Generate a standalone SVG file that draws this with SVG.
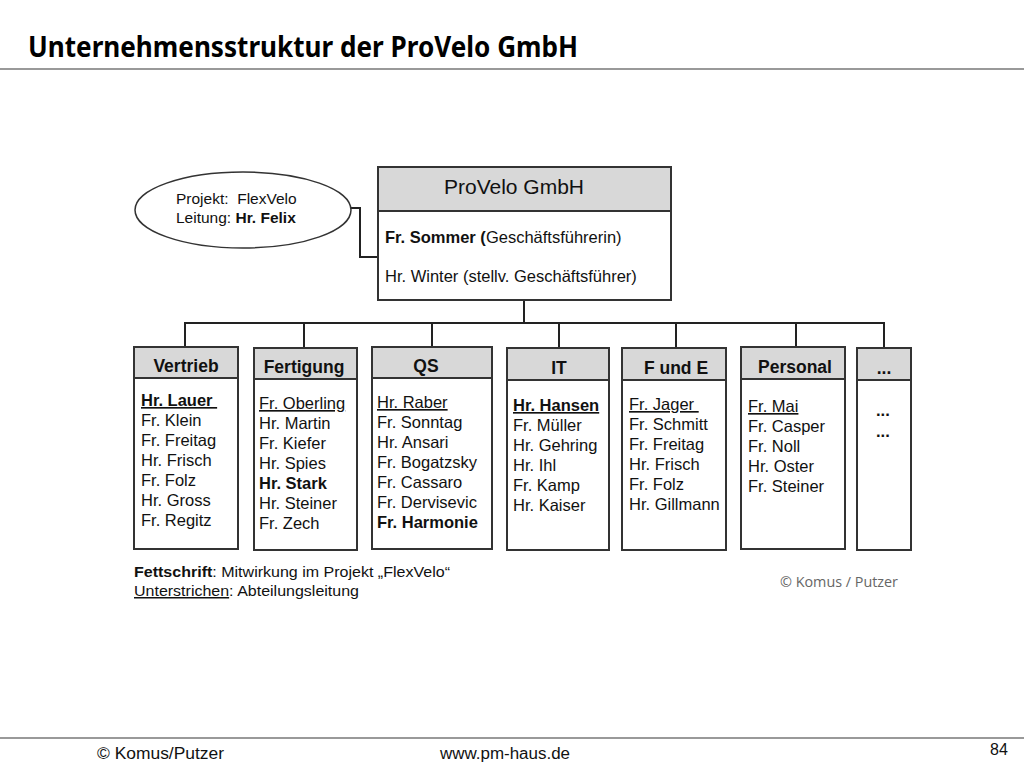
<svg xmlns="http://www.w3.org/2000/svg" width="1024" height="768" viewBox="0 0 1024 768">
<style>
.box{fill:#fff;stroke:#333;stroke-width:2}
.hdr{fill:#d8d8d8;stroke:#333;stroke-width:2}
.ln{fill:none;stroke:#222;stroke-width:2}
.t{font-family:"Liberation Sans",Arial,sans-serif;fill:#111}
.h{font-family:"Liberation Sans",Arial,sans-serif;font-weight:bold;font-size:17.5px;fill:#111;text-anchor:middle}
.m{font-family:"Liberation Sans",Arial,sans-serif;font-size:16.5px;fill:#111}
.b{font-weight:bold}
.u{text-decoration:underline}
</style>
<rect width="1024" height="768" fill="#fff"/>
<text x="28" y="57" font-family="'Noto Sans','Open Sans',sans-serif" font-weight="bold" font-size="29" fill="#000" textLength="550" lengthAdjust="spacingAndGlyphs">Unternehmensstruktur der ProVelo GmbH</text>
<line x1="0" y1="69" x2="1024" y2="69" stroke="#999" stroke-width="2"/>

<g id="connectors">
<polyline class="ln" points="350,208 360,208 360,257 378,257"/>
<line class="ln" x1="524" y1="300" x2="524" y2="323"/>
<line class="ln" x1="185" y1="323" x2="885" y2="323"/>
<line class="ln" x1="185" y1="322" x2="185" y2="347"/>
<line class="ln" x1="304" y1="322" x2="304" y2="348"/>
<line class="ln" x1="432" y1="322" x2="432" y2="347"/>
<line class="ln" x1="559" y1="322" x2="559" y2="348"/>
<line class="ln" x1="676" y1="322" x2="676" y2="348"/>
<line class="ln" x1="796" y1="322" x2="796" y2="347"/>
<line class="ln" x1="884" y1="322" x2="884" y2="348"/>
</g>

<g id="projekt">
<ellipse cx="243" cy="210" rx="108" ry="38" fill="#fff" stroke="#333" stroke-width="1.5"/>
<text class="t" x="176" y="204" font-size="15.5">Projekt:&#160; FlexVelo</text>
<text class="t" x="176" y="223" font-size="15.5">Leitung: <tspan class="b">Hr. Felix</tspan></text>
</g>

<g id="provelo">
<rect class="box" x="378" y="167" width="293" height="133"/>
<rect class="hdr" x="378" y="167" width="293" height="44"/>
<text class="t" x="514" y="194" font-size="21" text-anchor="middle">ProVelo GmbH</text>
<text class="t" x="385" y="243" font-size="16.5"><tspan class="b">Fr. Sommer (</tspan>Geschäftsführerin)</text>
<text class="t" x="385" y="282" font-size="16.5">Hr. Winter (stellv. Geschäftsführer)</text>
</g>

<g id="vertrieb">
<rect class="box" x="134" y="347" width="104" height="202"/>
<rect class="hdr" x="134" y="347" width="104" height="31"/>
<text class="h" x="186" y="372">Vertrieb</text>
<text class="m" x="141" y="406"><tspan class="b u">Hr. Lauer&#160;</tspan></text>
<text class="m" x="141" y="426">Fr. Klein</text>
<text class="m" x="141" y="446">Fr. Freitag</text>
<text class="m" x="141" y="466">Hr. Frisch</text>
<text class="m" x="141" y="486">Fr. Folz</text>
<text class="m" x="141" y="506">Hr. Gross</text>
<text class="m" x="141" y="526">Fr. Regitz</text>
</g>

<g id="fertigung">
<rect class="box" x="254" y="348" width="103" height="202"/>
<rect class="hdr" x="254" y="348" width="103" height="31"/>
<text class="h" x="304" y="373">Fertigung</text>
<text class="m" x="259" y="409"><tspan class="u">Fr. Oberling</tspan></text>
<text class="m" x="259" y="429">Hr. Martin</text>
<text class="m" x="259" y="449">Fr. Kiefer</text>
<text class="m" x="259" y="469">Hr. Spies</text>
<text class="m b" x="259" y="489">Hr. Stark</text>
<text class="m" x="259" y="509">Hr. Steiner</text>
<text class="m" x="259" y="529">Fr. Zech</text>
</g>

<g id="qs">
<rect class="box" x="372" y="347" width="120" height="202"/>
<rect class="hdr" x="372" y="347" width="120" height="31"/>
<text class="h" x="426" y="372">QS</text>
<text class="m" x="377" y="408"><tspan class="u">Hr. Raber</tspan></text>
<text class="m" x="377" y="428">Fr. Sonntag</text>
<text class="m" x="377" y="448">Hr. Ansari</text>
<text class="m" x="377" y="468">Fr. Bogatzsky</text>
<text class="m" x="377" y="488">Fr. Cassaro</text>
<text class="m" x="377" y="508">Fr. Dervisevic</text>
<text class="m b" x="377" y="528">Fr. Harmonie</text>
</g>

<g id="it">
<rect class="box" x="507" y="348" width="102" height="202"/>
<rect class="hdr" x="507" y="348" width="102" height="32"/>
<text class="h" x="559" y="374">IT</text>
<text class="m" x="513" y="411"><tspan class="b u">Hr. Hansen</tspan></text>
<text class="m" x="513" y="431">Fr. Müller</text>
<text class="m" x="513" y="451">Hr. Gehring</text>
<text class="m" x="513" y="471">Hr. Ihl</text>
<text class="m" x="513" y="491">Fr. Kamp</text>
<text class="m" x="513" y="511">Hr. Kaiser</text>
</g>

<g id="fue">
<rect class="box" x="622" y="348" width="104" height="202"/>
<rect class="hdr" x="622" y="348" width="104" height="32"/>
<text class="h" x="676" y="374">F und E</text>
<text class="m" x="629" y="410"><tspan class="u">Fr. Jager&#160;</tspan></text>
<text class="m" x="629" y="430">Fr. Schmitt</text>
<text class="m" x="629" y="450">Fr. Freitag</text>
<text class="m" x="629" y="470">Hr. Frisch</text>
<text class="m" x="629" y="490">Fr. Folz</text>
<text class="m" x="629" y="510">Hr. Gillmann</text>
</g>

<g id="personal">
<rect class="box" x="741" y="347" width="104" height="202"/>
<rect class="hdr" x="741" y="347" width="104" height="32"/>
<text class="h" x="795" y="373">Personal</text>
<text class="m" x="748" y="412"><tspan class="u">Fr. Mai</tspan></text>
<text class="m" x="748" y="432">Fr. Casper</text>
<text class="m" x="748" y="452">Fr. Noll</text>
<text class="m" x="748" y="472">Hr. Oster</text>
<text class="m" x="748" y="492">Fr. Steiner</text>
</g>

<g id="weitere">
<rect class="box" x="857" y="348" width="54" height="202"/>
<rect class="hdr" x="857" y="348" width="54" height="32"/>
<text class="h" x="884" y="374">...</text>
<text class="m b" x="876" y="416">...</text>
<text class="m b" x="876" y="437">...</text>
</g>

<g id="legende">
<text class="t" x="134" y="577" font-size="15" textLength="316" lengthAdjust="spacingAndGlyphs"><tspan class="b">Fettschrift</tspan>: Mitwirkung im Projekt „FlexVelo“</text>
<text class="t" x="134" y="596" font-size="15" textLength="225" lengthAdjust="spacingAndGlyphs"><tspan class="u">Unterstrichen</tspan>: Abteilungsleitung</text>
<text x="780" y="587" font-family="'Open Sans','Noto Sans',sans-serif" font-size="14" fill="#666" textLength="118" lengthAdjust="spacingAndGlyphs">© Komus / Putzer</text>
</g>

<line x1="0" y1="738" x2="1024" y2="738" stroke="#999" stroke-width="2"/>
<text class="t" x="97" y="759" font-size="16" textLength="127" lengthAdjust="spacingAndGlyphs">© Komus/Putzer</text>
<text class="t" x="440" y="759" font-size="16" textLength="130" lengthAdjust="spacingAndGlyphs">www.pm-haus.de</text>
<text class="t" x="990" y="755" font-size="16">84</text>
</svg>
